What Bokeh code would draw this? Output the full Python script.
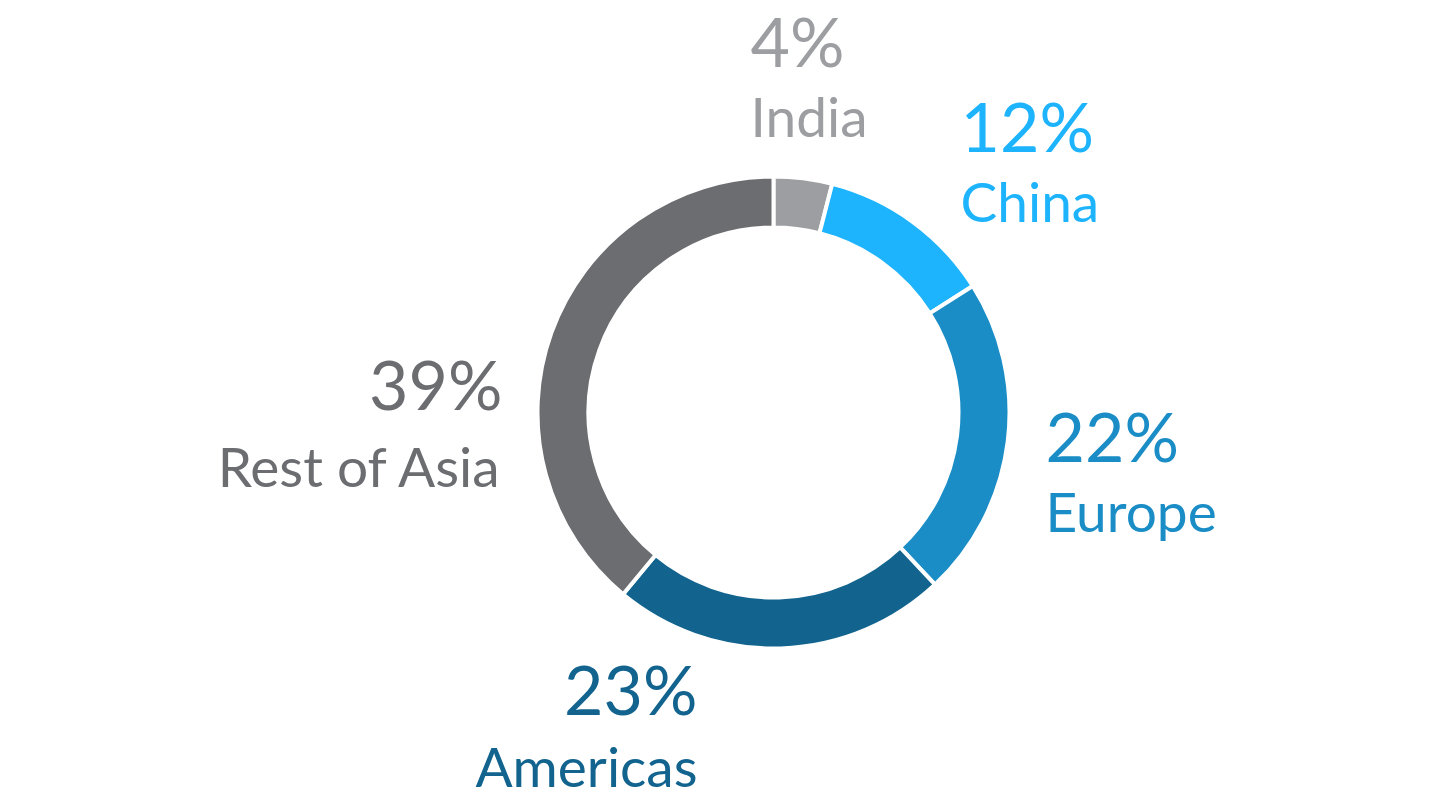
import math
from bokeh.plotting import figure
from bokeh.models import Range1d, ColumnDataSource
from bokeh.core.properties import value
from bokeh.embed import file_html
from bokeh.resources import INLINE

regions = ["India", "China", "Europe", "Americas", "Rest of Asia"]
shares = [4, 12, 22, 23, 39]
colors = ["#9d9ea2", "#1db4fd", "#1a8dc6", "#12648f", "#6c6d71"]

W, H = 1432, 802
CX, CY = 773, 810 - 412
R_OUT, R_IN = 236, 185

# label anchors (screen coords of percent baseline), alignment
label_x = [750, 960, 1045, 697, 502]
label_y = [67, 152, 462, 715, 410]
label_align = ["left", "left", "left", "right", "right"]
name_gap = [70, 70, 70, 72, 77]
# correction for how the svg backend places the alphabetic baseline
PCT_SHIFT, NAME_SHIFT = 27, 22

total = sum(shares)
starts, ends = [], []
cum = 0.0
for s in shares:
    starts.append(math.pi / 2 - 2 * math.pi * cum / total)
    cum += s
    ends.append(math.pi / 2 - 2 * math.pi * cum / total)

p = figure(width=W, height=H, output_backend="svg", toolbar_location=None,
           x_range=Range1d(0, W), y_range=Range1d(810 - H, 810),
           min_border=0)
p.axis.visible = False
p.grid.visible = False
p.outline_line_color = None

src = ColumnDataSource(dict(start=starts, end=ends, color=colors))
p.annular_wedge(x=CX, y=CY, inner_radius=R_IN, outer_radius=R_OUT,
                start_angle="start", end_angle="end", direction="clock",
                fill_color="color", line_color="white", line_width=4, source=src)

font = "Lato"
for i, name in enumerate(regions):
    p.text(x=[label_x[i]], y=[810 - label_y[i] + PCT_SHIFT], text=[f"{shares[i]}%"],
           text_align=label_align[i], text_baseline="alphabetic",
           text_font=value(font), text_font_size="68px", text_color=colors[i])
    p.text(x=[label_x[i]], y=[810 - label_y[i] - name_gap[i] + NAME_SHIFT], text=[name],
           text_align=label_align[i], text_baseline="alphabetic",
           text_font=value(font), text_font_size="55px", text_color=colors[i])

open("out.html", "w").write(file_html(p, INLINE))
